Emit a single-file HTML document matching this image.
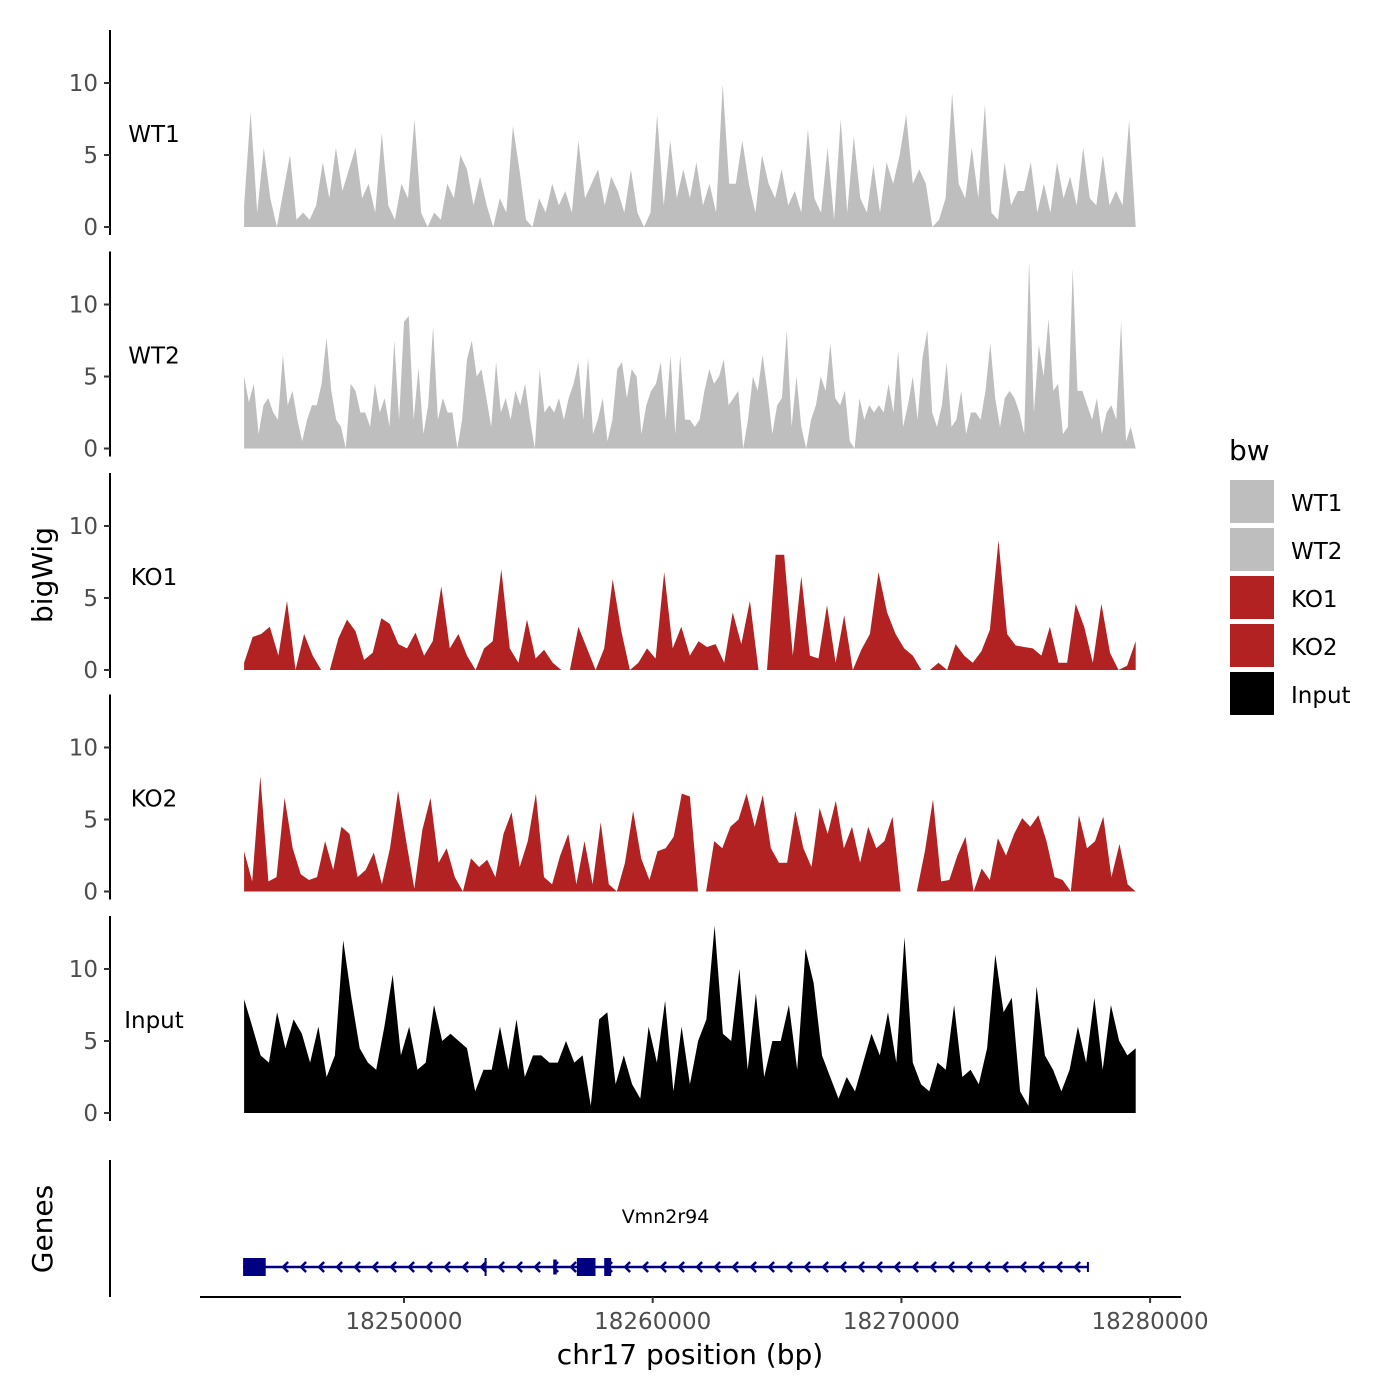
<!DOCTYPE html>
<html><head><meta charset="utf-8"><style>
html,body{margin:0;padding:0;background:#fff;}
svg{display:block;font-family:"DejaVu Sans","Liberation Sans",sans-serif;}
</style></head><body>
<svg id="chart" width="1400" height="1400" viewBox="0 0 1400 1400">
<g id="tracks"></g>
<g id="genes"></g>
<g id="xaxis"></g>
<text x="52" y="575" transform="rotate(-90 52 575)" text-anchor="middle" font-size="28" fill="#000">bigWig</text>
<text x="52" y="1229" transform="rotate(-90 52 1229)" text-anchor="middle" font-size="28" fill="#000">Genes</text>
<text x="690" y="1364" text-anchor="middle" font-size="28" fill="#000">chr17 position (bp)</text>
<g>
<text x="1229" y="460" font-size="28" fill="#000">bw</text>
<rect x="1230" y="480" width="44" height="43" fill="#bebebe"/>
<rect x="1230" y="528" width="44" height="43" fill="#bebebe"/>
<rect x="1230" y="576" width="44" height="43" fill="#b22222"/>
<rect x="1230" y="624" width="44" height="43" fill="#b22222"/>
<rect x="1230" y="672" width="44" height="43" fill="#000"/>
<text x="1291" y="511" font-size="23">WT1</text>
<text x="1291" y="559" font-size="23">WT2</text>
<text x="1291" y="607" font-size="23">KO1</text>
<text x="1291" y="655" font-size="23">KO2</text>
<text x="1291" y="703" font-size="23">Input</text>
</g>
</svg>
<script>
const trackNames = ["WT1","WT2","KO1","KO2","Input"];
const trackColors = ["#bebebe","#bebebe","#b22222","#b22222","#000000"];
const yTicks = [0,5,10];
const xTicks = [18250000,18260000,18270000,18280000];
const dataStart = 18243570;
const dataEnd = 18279420;
const wt1Values = [1.5,8,1,5.5,2,0,2.5,5,0.5,1,0.5,1.5,4.5,2,5.5,2.5,4,5.5,2,3,1,6.5,1.5,0.5,3,2,7.5,1,0,1,0.5,3,2,5,4,1.5,3.5,1.5,0,2,1,7,4,0.5,0,2,1,3,1.5,2.5,1,6,2,3,4,1.5,3.5,2.5,1,4,1,0,1,7.8,1.5,6,2,4,2,4.5,1.5,3,1,9.9,3,3,6,3,1,5,3,2,4,1.5,2.5,1,6.8,2,1,5.5,0.5,7.5,1,6.3,2,1,4.3,1,4.5,3,5,7.8,3,4,3,0,0.5,2,9.3,3,2,5.5,2,8.5,1,0.5,4.5,1.5,2.5,2.5,4.5,1,3,1,4.5,2,3.5,1.5,5.5,2,1.5,5,1.5,2.5,1.5,7.4,0];
const wt2Values = [5,3.2,4.5,1,3,3.5,2.5,2,6.5,3,4,2,0.5,2,3,3,4.5,7.7,4,2,1.5,0,4.5,4,2.5,2.5,1.5,4.5,2.5,3.5,1.5,7.5,2,8.8,9.2,2,5.6,1,3,8.5,2,3.5,2.5,2.5,0,2,6.2,7.5,5,5.5,3.5,1.5,6,2.5,3.5,2,4,3,4.5,2,0,5.5,2.5,3,2.5,3.5,2,3.5,4.5,6,2,6.3,1,2,3.5,0.5,2,5.5,6,3.5,5.5,5,1,3,4,4.5,6,2,6.5,1,6.5,2,2,1.5,2,4,5.5,4.5,5,6.2,3,3.5,4,0,2,5,4,6.5,4,1,3,3.5,8.2,1.5,5,1.5,0,2,3,5,4,7.3,3.5,3,4,0.5,0,3.5,2,3,2.5,3,2.5,4.5,2.5,6.8,1.5,3,5,2,6.3,8.2,2.5,1.5,3,6,1.5,2,4,1,2.5,2.5,2,4,7.3,3.5,1.5,3.5,4,3.5,2.5,1,13,2.5,7.2,5,9,4,4.5,1,1.5,12.5,4,4,3,2,3.5,1,2.5,3,2,8.8,0.5,1.5,0];
const ko1Values = [0.5,2.3,2.5,3,1,4.8,0,2.5,1,0,0,2.2,3.5,2.7,0.7,1.2,3.6,3.2,1.8,1.5,2.6,1,2,5.8,1.5,2.5,1,0,1.5,2,7,1.5,0.5,3.5,0.8,1.4,0.5,0,0,3,1.5,0,1.5,6.3,2.7,0,0.5,1.5,0.8,6.8,1.5,3,1,2,1.6,1.8,0.5,4,1.8,4.8,0,0,8,8,1,6.5,1,0.8,4.5,0.5,3.8,0,1.4,2.5,6.8,4,2.5,1.5,1,0,0,0.5,0,1.8,1,0.5,1.3,2.8,9,2.5,1.7,1.6,1.5,1,3,0.5,0.5,4.6,3,0.5,4.6,1.2,0,0.3,2];
const ko2Values = [2.8,0.7,8,0.7,1,6.5,3,1.2,0.8,1,3.5,1.5,4.5,4,1,1.5,2.7,0.5,3,7,3.5,0.2,4.3,6.5,2,3,1,0,2.3,1.7,2.2,1,4,5.5,1.7,3.5,6.8,1,0.5,2.5,4,0.5,3.5,0.5,4.8,0.5,0,2,5.6,2.3,0.8,2.8,3,3.8,6.8,6.6,0,0,3.5,3,4.5,5,6.8,4.5,6.7,3,2,2,5.6,3,1.7,5.8,4,6.3,3,4.5,2,4.5,3,3.5,5.2,0,0,0,2.8,6.4,0.7,0.8,2.5,3.8,0,1.6,0.8,3.7,2.5,4,5.1,4.5,5.3,3.5,1,0.8,0,5.3,3,3.5,5.2,1,3.3,0.5,0];
const inputValues = [7.9,6,4,3.5,7,4.5,6.5,5.5,3.5,6,2.5,4,12,8,4.5,3.5,3,6,9.6,4,6,3,3.5,7.5,5,5.5,5,4.5,1.5,3,3,6,3,6.5,2.5,4,4,3.5,3.5,5,3.5,4,0.5,6.5,7,2,4,2,1,6,3.5,7.8,1.5,6,2,5,6.5,13,5.5,5,10,3,8.3,2.5,5,5,7.5,3,11.4,9,4,2.5,1,2.5,1.5,3.5,5.5,4,7,3.5,12.2,3.5,2,1.5,3.5,3,7.5,2.5,3,2,4.5,11,7,8,1.5,0.5,8.8,4,3,1.5,3,6,3.5,8,3,7.5,5,4,4.5];
const trackValues = [wt1Values,wt2Values,ko1Values,ko2Values,inputValues];
const geneName = "Vmn2r94";
const geneStart = 18243530;
const geneEnd = 18277500;
const exonStarts = [18243530,18253240,18256000,18256950,18258050];
const exonEnds   = [18244440,18253300,18256140,18257700,18258330];
const exonHeights= [18,18,15,18,18];

const NS = "http://www.w3.org/2000/svg";
function xScale(bp){ return 404 + (bp - 18250000) * 248.7 / 10000; }
const PPU = 14.4;
function zeroY(i){ return 227 + i*221.5; }
function yScale(i,v){ return zeroY(i) - v*PPU; }
function mk(tag, attrs, parent){
  const e = document.createElementNS(NS, tag);
  for (const k in attrs) e.setAttribute(k, attrs[k]);
  parent.appendChild(e); return e;
}
const tracks = document.getElementById("tracks");
trackNames.forEach((name,i)=>{
  const g = mk("g",{},tracks);
  
  
  const z = zeroY(i);
  const ax = mk("line",{x1:110,x2:110,y1:z-197,y2:z+8,stroke:"#000","stroke-width":2},g);
  
  
  yTicks.forEach(t=>{
    const y = yScale(i,t);
    const tk = mk("line",{x1:104,x2:110,y1:y,y2:y,stroke:"#333","stroke-width":2},g);
    
    
    const tl = mk("text",{x:98,y:y+8,"text-anchor":"end","font-size":23,fill:"#4d4d4d"},g);
    tl.textContent = t;
    
    
  });
  const lab = mk("text",{x:154,y:z-85,"text-anchor":"middle","font-size":23,fill:"#000"},g);
  lab.textContent = name;
  
  
  const vals = trackValues[i];
  const n = vals.length;
  let d = "M" + xScale(dataStart).toFixed(1) + "," + z;
  vals.forEach((v,k)=>{
    const bp = dataStart + (dataEnd - dataStart) * k / (n-1);
    d += " L" + xScale(bp).toFixed(1) + "," + yScale(i,v).toFixed(1);
  });
  d += " L" + xScale(dataEnd).toFixed(1) + "," + z + " Z";
  const area = mk("path",{d:d,fill:trackColors[i]},g);
  
  
});
const gg = document.getElementById("genes");
const gax = mk("line",{x1:110,x2:110,y1:1160,y2:1297,stroke:"#000","stroke-width":2},gg);


const gy = 1267;
const gl = mk("line",{x1:xScale(geneStart),x2:xScale(geneEnd),y1:gy,y2:gy,stroke:"#000080","stroke-width":2.5},gg);


for (let x = xScale(geneStart)+40; x < xScale(geneEnd)-5; x += 18){
  const a = mk("polyline",{points:`${x+5},${gy-5} ${x},${gy} ${x+5},${gy+5}`,fill:"none",stroke:"#000080","stroke-width":2.5},gg);
  
  
}
const endTick = mk("line",{x1:xScale(geneEnd),x2:xScale(geneEnd),y1:gy-5,y2:gy+5,stroke:"#000080","stroke-width":2},gg);


exonStarts.forEach((s,k)=>{
  const x0 = xScale(s), x1 = xScale(exonEnds[k]), h = exonHeights[k];
  const r = mk("rect",{x:x0,y:gy-h/2,width:Math.max(2,x1-x0),height:h,fill:"#000080"},gg);
  
  
});
const gn = mk("text",{x:(xScale(geneStart)+xScale(geneEnd))/2,y:1223,"text-anchor":"middle","font-size":19,fill:"#000"},gg);
gn.textContent = geneName;


const xa = document.getElementById("xaxis");
const xl = mk("line",{x1:200,x2:1181,y1:1297,y2:1297,stroke:"#000","stroke-width":2},xa);


xTicks.forEach(t=>{
  const x = xScale(t);
  const tk = mk("line",{x1:x,x2:x,y1:1297,y2:1303,stroke:"#333","stroke-width":2},xa);
  
  
  const tl = mk("text",{x:x,y:1329,"text-anchor":"middle","font-size":23,fill:"#4d4d4d"},xa);
  tl.textContent = t;
  
  
});
</script>
</body></html>
